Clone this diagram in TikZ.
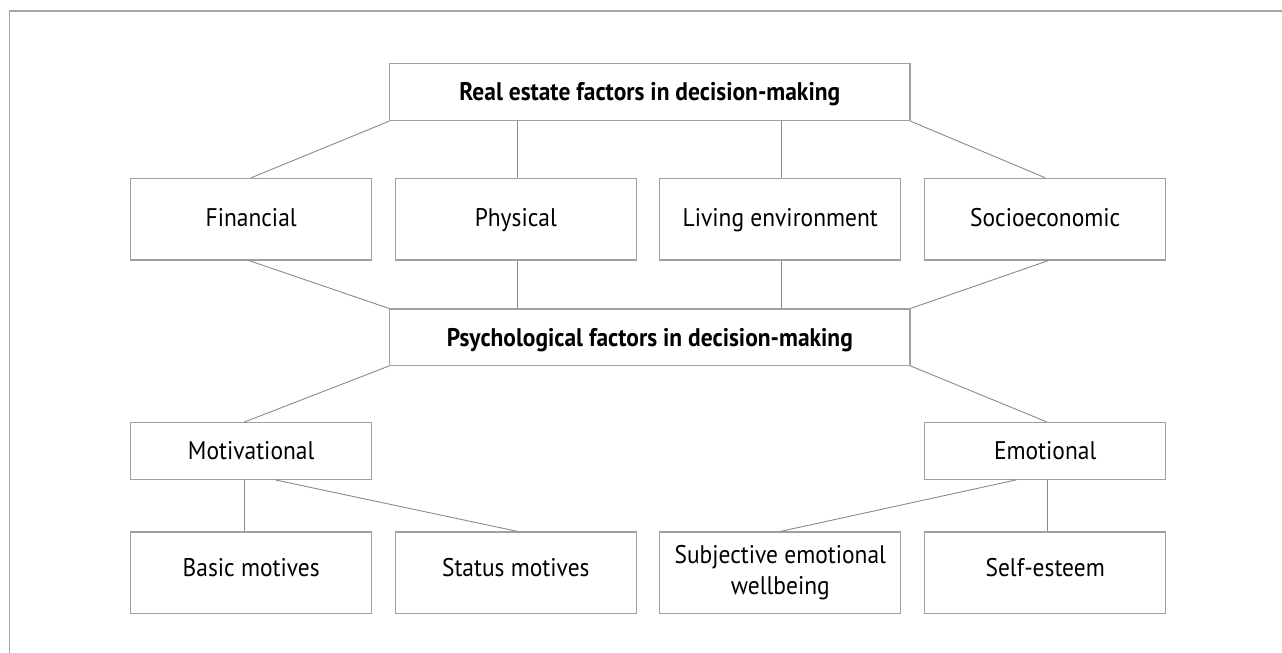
\documentclass[tikz,border=0pt]{standalone}
\usepackage{fontspec}
\setmainfont{PT Sans}[FakeStretch=0.92]
\definecolor{boxc}{RGB}{160,160,160}
\definecolor{linec}{RGB}{138,138,138}
\definecolor{framec}{RGB}{166,166,166}
\begin{document}
\begin{tikzpicture}[x=1pt,y=-1pt,
  box/.style={draw=boxc, line width=1.2pt, minimum width=241pt, minimum height=81.7pt,
    inner sep=0pt, align=center, font=\fontsize{25.5}{28.5}\selectfont, text height=20pt, text depth=2.3pt},
  row2/.style={box, text depth=6.3pt},
  low/.style={box, text depth=13.7pt},
  twoline/.style={box, text height=, text depth=, font=\fontsize{25.5}{31}\selectfont},
  half/.style={box, minimum height=56.6pt},
  wide/.style={box, minimum width=520.2pt, minimum height=57pt, font=\fontsize{25.5}{28.5}\selectfont\bfseries},
  conn/.style={draw=linec, line width=0.9pt},
  framel/.style={draw=framec, line width=1.5pt}]
\useasboundingbox (0,0) rectangle (1282,653);
\coordinate (fa) at (9.7,653);
\coordinate (fb) at (9.7,11);
\coordinate (fc) at (1282,11);
\draw[framel] (fa) -- (fb) -- (fc);

\node[wide] (top) at (649.8,92.1) {Real estate factors in decision-making};
\node[row2] (fin) at (251.2,219.2) {Financial};
\node[row2] (phy) at (515.8,219.2) {Physical};
\node[row2] (liv) at (780.3,219.2) {Living environment};
\node[row2] (soc) at (1045.2,219.2) {Socioeconomic};
\node[wide, minimum height=56.3pt] (psy) at (649.8,337.2) {Psychological factors in decision-making};
\node[half] (mot) at (251.2,451) {Motivational};
\node[half] (emo) at (1045.2,451) {Emotional};
\node[low] (bas) at (251.2,572.9) {Basic motives};
\node[low] (sta) at (515.8,572.9) {Status motives};
\node[twoline] (sub) at (780.3,572.9) {Subjective emotional\\wellbeing};
\node[low] (sel) at (1045.2,572.9) {Self-esteem};

\draw[conn] (top.south west) -- (fin.north);
\draw[conn] ([xshift=2pt]phy.north) -- ([xshift=2pt]phy.north |- top.south);
\draw[conn] ([xshift=1.4pt]liv.north) -- ([xshift=1.4pt]liv.north |- top.south);
\draw[conn] (top.south east) -- (soc.north);

\draw[conn] ([xshift=-2pt]fin.south) -- (psy.north west);
\draw[conn] ([xshift=2pt]phy.south) -- ([xshift=2pt]phy.south |- psy.north);
\draw[conn] ([xshift=1.4pt]liv.south) -- ([xshift=1.4pt]liv.south |- psy.north);
\draw[conn] ([xshift=3pt]soc.south) -- (psy.north east);

\draw[conn] (psy.south west) -- ([xshift=-7pt]mot.north);
\draw[conn] (psy.south east) -- ([xshift=2pt]emo.north);

\draw[conn] ([xshift=-6.5pt]bas.north) -- ([xshift=-6.5pt]bas.north |- mot.south);
\draw[conn] ([xshift=24pt]mot.south) -- ([xshift=2pt]sta.north);
\draw[conn] ([xshift=-29pt]emo.south) -- (sub.north);
\draw[conn] ([xshift=2.5pt]sel.north) -- ([xshift=2.5pt]sel.north |- emo.south);
\end{tikzpicture}
\end{document}
